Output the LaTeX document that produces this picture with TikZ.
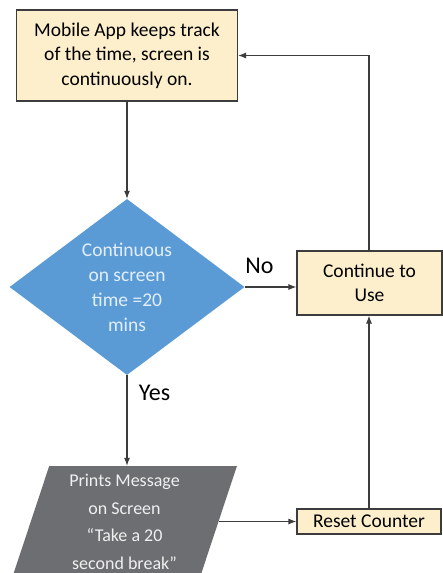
\documentclass[tikz,border=0pt]{standalone}
\usepackage{fontspec}
\setmainfont{Carlito}
\usetikzlibrary{shapes.geometric,arrows.meta}

\definecolor{boxfill}{RGB}{253,239,203}
\definecolor{boxline}{RGB}{60,60,60}
\definecolor{dmdblue}{RGB}{91,155,213}
\definecolor{dmdtext}{RGB}{226,238,250}
\definecolor{msggray}{RGB}{108,110,114}
\definecolor{msgtext}{RGB}{240,240,240}

\tikzset{
  procbox/.style={draw=boxline, fill=boxfill, line width=1.1pt, inner sep=0pt, align=center,
    font=\fontsize{19.5}{24.5}\selectfont},
  decbox/.style={diamond, fill=dmdblue, inner sep=0pt, align=center, text=dmdtext,
    minimum width=235pt, minimum height=176pt, shape aspect=1.33,
    font=\fontsize{19.5}{25}\selectfont},
  msgbox/.style={trapezium, trapezium left angle=74, trapezium right angle=106,
    trapezium stretches=true, fill=msggray, inner sep=0pt, align=center, text=msgtext,
    font=\fontsize{18}{27.5}\selectfont},
  flow/.style={draw=boxline, line width=1.1pt, -{Latex[length=8pt,width=6pt]}},
  lbl/.style={inner sep=0pt, font=\fontsize{24}{28}\selectfont}
}

\begin{document}
\begin{tikzpicture}[x=1pt,y=-1pt]
\useasboundingbox[fill=white] (0,0) rectangle (443,573);

% boxes
\node[procbox, minimum width=221pt, minimum height=91pt] (track) at (127,55.5)
  {Mobile App keeps track\\of the time, screen is\\continuously on.};
\node[decbox] (dmd) at (127,287) {Continuous\\on screen\\time =20\\mins};
\node[procbox, minimum width=145pt, minimum height=64pt] (use) at (369.5,283)
  {Continue to\\Use};
\node[msgbox, minimum width=225pt, minimum height=112pt] (msg) at (124.5,522)
  {Prints Message\\on Screen\\``Take a 20\\second break''};
\node[procbox, minimum width=144pt, minimum height=25pt] (reset) at (369,521.5)
  {Reset Counter};

% labels
\node[lbl] (nolbl) at (259.5,266) {No};
\node[lbl] (yeslbl) at (154.5,393) {Yes};

% arrows
\draw[flow] (track.south) -- (dmd.north);
\draw[flow] (dmd.east) -- (dmd.east -| use.west);
\draw[flow] (dmd.south) -- (dmd.south |- msg.north);
\draw[flow] (msg.east |- reset.west) -- (reset.west);
\draw[flow] (reset.north) -- (reset.north |- use.south);
\draw[flow] (reset.north |- use.north) |- (track.east);
\end{tikzpicture}
\end{document}
